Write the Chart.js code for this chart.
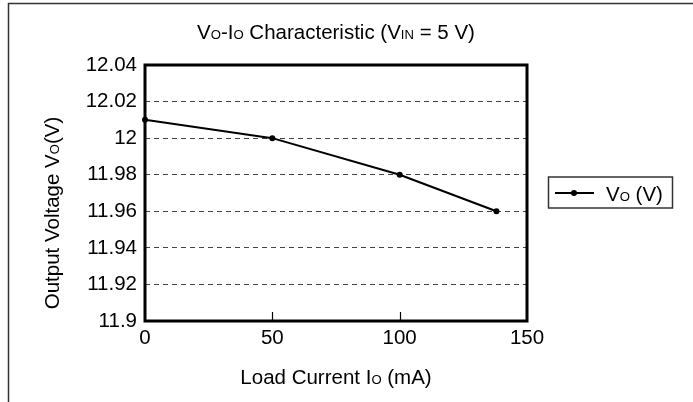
<!DOCTYPE html>
<html>
<head>
<meta charset="utf-8">
<script src="https://cdn.jsdelivr.net/npm/chart.js@4/dist/chart.umd.min.js"></script>
<style>
  html, body { margin: 0; padding: 0; background: #ffffff; }
  #wrap { width: 693px; height: 402px; }
</style>
</head>
<body>
<div id="wrap"><canvas id="c" width="693" height="402"></canvas></div>
<script>
// ---- data ----
const loadCurrent = [0, 50, 100, 138];          // mA
const outputVoltage = [12.01, 12.00, 11.98, 11.96]; // V
const xTickValues = [0, 50, 100, 150];
const yTickValues = [11.9, 11.92, 11.94, 11.96, 11.98, 12.0, 12.02, 12.04];
const seriesName = [{t: 'V'}, {t: 'O', s: true}, {t: ' (V)'}];
const titleText = [{t: 'V'}, {t: 'O', s: true}, {t: '-I'}, {t: 'O', s: true}, {t: ' Characteristic (V'}, {t: 'IN', s: true}, {t: ' = 5 V)'}];
const xTitleText = [{t: 'Load Current I'}, {t: 'O', s: true}, {t: ' (mA)'}];
const yTitleText = [{t: 'Output Voltage V'}, {t: 'O', s: true}, {t: '(V)'}];

const FONT = "'Liberation Sans', Arial, Helvetica, sans-serif";
const FS = 20.5;

function richWidth(ctx, parts, size) {
  let w = 0;
  for (const p of parts) {
    ctx.font = (p.s ? size * 0.64 : size) + 'px ' + FONT;
    w += ctx.measureText(p.t).width;
  }
  return w;
}
function drawRich(ctx, parts, x, y, size, align) {
  const w = richWidth(ctx, parts, size);
  let cx = align === 'center' ? x - w / 2 : x;
  ctx.textBaseline = 'alphabetic';
  ctx.textAlign = 'left';
  ctx.fillStyle = '#000';
  for (const p of parts) {
    ctx.font = (p.s ? size * 0.64 : size) + 'px ' + FONT;
    ctx.fillText(p.t, cx, y);
    cx += ctx.measureText(p.t).width;
  }
}

const decorPlugin = {
  id: 'decor',
  beforeDraw(chart) {
    const ctx = chart.ctx;
    ctx.save();
    ctx.fillStyle = '#fff';
    ctx.fillRect(0, 0, chart.width, chart.height);
    ctx.strokeStyle = '#333';
    ctx.lineWidth = 1.5;
    ctx.beginPath();
    ctx.moveTo(8.5, chart.height + 2);
    ctx.lineTo(8.5, 3.5);
    ctx.lineTo(chart.width + 2, 3.5);
    ctx.stroke();
    ctx.restore();
  },
  afterDatasetsDraw(chart) {
    const ctx = chart.ctx;
    const a = chart.chartArea;
    const xs = chart.scales.x;
    ctx.save();
    // inner tick marks
    ctx.strokeStyle = '#000';
    ctx.lineWidth = 1.2;
    for (let i = 1; i < xTickValues.length - 1; i++) {
      const px = Math.round(xs.getPixelForValue(xTickValues[i])) + 0.5;
      ctx.beginPath();
      ctx.moveTo(px, a.bottom);
      ctx.lineTo(px, a.bottom - 9);
      ctx.stroke();
    }
    // frame
    ctx.lineWidth = 3;
    ctx.strokeRect(a.left, a.top, a.right - a.left, a.bottom - a.top);
    // title
    drawRich(ctx, titleText, (a.left + a.right) / 2, 39, FS, 'center');
    // x title
    drawRich(ctx, xTitleText, (a.left + a.right) / 2, 384, FS, 'center');
    // y title
    ctx.save();
    ctx.translate(59, 213);
    ctx.rotate(-Math.PI / 2);
    drawRich(ctx, yTitleText, 0, 0, FS, 'center');
    ctx.restore();
    // legend
    const midY = (a.top + a.bottom) / 2;
    ctx.strokeStyle = '#333';
    ctx.lineWidth = 1.5;
    ctx.strokeRect(548.5, midY - 16, 124, 31);
    ctx.strokeStyle = '#000';
    ctx.lineWidth = 2;
    ctx.beginPath();
    ctx.moveTo(555, midY);
    ctx.lineTo(594, midY);
    ctx.stroke();
    ctx.fillStyle = '#000';
    ctx.beginPath();
    ctx.arc(574, midY, 3, 0, Math.PI * 2);
    ctx.fill();
    drawRich(ctx, seriesName, 606, midY + 7.5, FS, 'left');
    ctx.restore();
  }
};

const points = loadCurrent.map((x, i) => ({x: x, y: outputVoltage[i]}));

new Chart(document.getElementById('c'), {
  type: 'line',
  data: {
    datasets: [{
      label: 'VO (V)',
      data: points,
      borderColor: '#000',
      backgroundColor: '#000',
      borderWidth: 2,
      pointRadius: 3,
      pointBackgroundColor: '#000',
      pointBorderWidth: 0,
      tension: 0,
      clip: false
    }]
  },
  options: {
    responsive: false,
    animation: false,
    devicePixelRatio: 1,
    layout: { padding: { top: 65, right: 166, left: 0, bottom: 0 } },
    plugins: { legend: { display: false }, title: { display: false }, tooltip: { enabled: false } },
    scales: {
      x: {
        type: 'linear',
        min: 0, max: 150,
        afterBuildTicks(s) { s.ticks = xTickValues.map(v => ({value: v})); },
        afterFit(s) { s.height = 81; },
        grid: { display: false, drawTicks: false },
        border: { display: false },
        ticks: { color: '#000', font: { family: FONT, size: FS }, padding: 5, maxRotation: 0,
                 callback: v => String(v) }
      },
      y: {
        type: 'linear',
        min: 11.9, max: 12.04,
        afterBuildTicks(s) { s.ticks = yTickValues.map(v => ({value: v})); },
        afterFit(s) { s.width = 145; },
        grid: {
          drawTicks: false,
          lineWidth: 1,
          color: c => (c.index === 0 || c.index === yTickValues.length - 1) ? 'rgba(0,0,0,0)' : '#444'
        },
        border: { display: false, dash: [5, 4] },
        ticks: { color: '#000', font: { family: FONT, size: FS }, padding: 8,
                 callback: v => String(Number(Number(v).toFixed(2))) }
      }
    }
  },
  plugins: [decorPlugin]
});
</script>
</body>
</html>
